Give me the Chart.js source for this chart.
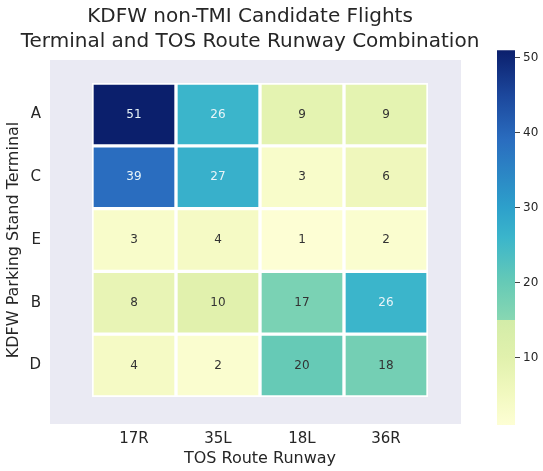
<!DOCTYPE html>
<html>
<head>
  <title>KDFW non-TMI Candidate Flights</title>
  <script src="https://cdn.jsdelivr.net/npm/chart.js"></script>
  <style>
    body { margin: 0; background: #fff; font-family: "DejaVu Sans", sans-serif; }
    .wrap { position: relative; width: 543px; height: 471px; }
    #heatmap { position: absolute; left: 0; top: 0; }
    #colorbar { position: absolute; left: 490px; top: 40px; }
  </style>
</head>
<body>
  <div class="wrap">
    <canvas id="heatmap" width="500" height="471"></canvas>
    <canvas id="colorbar" width="53" height="400"></canvas>
  </div>

  <script>
    // datos
    const runways = ['17R', '35L', '18L', '36R'];
    const terminals = ['A', 'C', 'E', 'B', 'D'];
    const rowA = [51, 26, 9, 9];
    const rowC = [39, 27, 3, 6];
    const rowE = [3, 4, 1, 2];
    const rowB = [8, 10, 17, 26];
    const rowD = [4, 2, 20, 18];
    const counts = [rowA, rowC, rowE, rowB, rowD];
    const colorbarTicks = [10, 20, 30, 40, 50];
    const colorMin = 1;
    const colorMax = 51;

    // paleta aproximada (tiene un salto cerca de 15)
    const lowStops = [[1, '#fdfed4'], [5, '#f2f9c0'], [10, '#e1f1ad'], [15, '#d3eca8']];
    const highStops = [[15, '#88d7b2'], [20, '#66cab6'], [26, '#3bb5cb'], [30, '#2da0cb'],
                       [39, '#2a6dbf'], [45, '#1c479c'], [51, '#0b1f6c']];

    function hexToRgb(h) {
      const n = parseInt(h.slice(1), 16);
      return [(n >> 16) & 255, (n >> 8) & 255, n & 255];
    }

    function interp(stops, v) {
      if (v <= stops[0][0]) return stops[0][1];
      for (let i = 1; i < stops.length; i++) {
        if (v <= stops[i][0]) {
          const [v0, c0] = stops[i - 1];
          const [v1, c1] = stops[i];
          const t = (v - v0) / (v1 - v0);
          const a = hexToRgb(c0), b = hexToRgb(c1);
          const c = a.map((x, k) => Math.round(x + (b[k] - x) * t));
          return `rgb(${c[0]}, ${c[1]}, ${c[2]})`;
        }
      }
      return stops[stops.length - 1][1];
    }

    function colorFor(v) {
      return v < 15 ? interp(lowStops, v) : interp(highStops, v);
    }

    const datasets = counts.map((row, i) => ({
      label: terminals[i],
      data: row.map(() => [i, i + 1]),
      counts: row,
      backgroundColor: row.map(colorFor),
      borderColor: '#ffffff',
      borderWidth: 2,
      borderSkipped: false,
      barPercentage: 1,
      categoryPercentage: 1,
      grouped: false
    }));

    // fondo lavanda alrededor de las celdas
    const fondoPlugin = {
      id: 'fondo',
      beforeDraw(chart) {
        const a = chart.chartArea;
        const ctx = chart.ctx;
        ctx.save();
        ctx.fillStyle = '#eaeaf3';
        ctx.fillRect(a.left - 42, a.top - 23, a.width + 75, a.height + 50);
        ctx.restore();
      }
    };

    // numeros dentro de cada celda
    const valoresPlugin = {
      id: 'valores',
      afterDatasetsDraw(chart) {
        const ctx = chart.ctx;
        ctx.save();
        ctx.font = '12px "DejaVu Sans"';
        ctx.textAlign = 'center';
        ctx.textBaseline = 'middle';
        chart.data.datasets.forEach((ds, i) => {
          chart.getDatasetMeta(i).data.forEach((bar, j) => {
            const v = ds.counts[j];
            ctx.fillStyle = v > 24 ? '#e8f4f8' : '#333333';
            ctx.fillText(String(v), bar.x, (bar.y + bar.base) / 2);
          });
        });
        ctx.restore();
      }
    };

    new Chart(document.getElementById('heatmap'), {
      type: 'bar',
      data: { labels: runways, datasets: datasets },
      options: {
        responsive: false,
        animation: false,
        plugins: {
          legend: { display: false },
          tooltip: { enabled: false },
          title: {
            display: true,
            text: ['KDFW non-TMI Candidate Flights', 'Terminal and TOS Route Runway Combination'],
            color: '#262626',
            font: { family: 'DejaVu Sans', size: 20, weight: 'normal', lineHeight: 1.25 },
            padding: { top: 4, bottom: 29 }
          }
        },
        scales: {
          x: {
            grid: { display: false },
            border: { display: false },
            ticks: { color: '#262626', font: { family: 'DejaVu Sans', size: 15 }, padding: 25 },
            title: {
              display: true,
              text: 'TOS Route Runway',
              color: '#262626',
              font: { family: 'DejaVu Sans', size: 16 },
              padding: { top: 0, bottom: 3 }
            },
            afterFit: (s) => { s.height = 74; }
          },
          y: {
            type: 'linear',
            min: 0,
            max: terminals.length,
            reverse: true,
            grid: { display: false },
            border: { display: false },
            afterBuildTicks: (s) => { s.ticks = terminals.map((t, i) => ({ value: i + 0.5 })); },
            ticks: {
              color: '#262626',
              font: { family: 'DejaVu Sans', size: 15 },
              padding: 43,
              callback: (v) => terminals[Math.floor(v)]
            },
            title: {
              display: true,
              text: 'KDFW Parking Stand Terminal',
              color: '#262626',
              font: { family: 'DejaVu Sans', size: 16 },
              padding: { top: 4, bottom: 0 }
            },
            afterFit: (s) => { s.width = 92; }
          },
          // eje vacio a la derecha para dejar sitio (la barra de color va aparte)
          derecha: {
            type: 'linear',
            position: 'right',
            display: true,
            grid: { display: false },
            border: { display: false },
            ticks: { display: false },
            afterFit: (s) => { s.width = 72; }
          }
        }
      },
      plugins: [fondoPlugin, valoresPlugin]
    });

    // barra de color
    function gradiente(context) {
      const chart = context.chart;
      const area = chart.chartArea;
      if (!area) return '#ccc';
      const y = chart.scales.y;
      const y0 = y.getPixelForValue(colorMin);
      const y1 = y.getPixelForValue(colorMax);
      const g = chart.ctx.createLinearGradient(0, y0, 0, y1);
      const off = (v) => (v - colorMin) / (colorMax - colorMin);
      lowStops.forEach(([v, c]) => g.addColorStop(off(v), c));
      highStops.forEach(([v, c]) => g.addColorStop(Math.min(1, off(v) + 0.0001), c));
      return g;
    }

    new Chart(document.getElementById('colorbar'), {
      type: 'bar',
      data: {
        labels: [''],
        datasets: [{
          data: [[colorMin, colorMax]],
          backgroundColor: gradiente,
          borderWidth: 0,
          barPercentage: 1,
          categoryPercentage: 1
        }]
      },
      options: {
        responsive: false,
        animation: false,
        layout: { padding: { top: 10, bottom: 15, left: 7 } },
        plugins: { legend: { display: false }, tooltip: { enabled: false } },
        scales: {
          x: { display: false },
          y: {
            position: 'right',
            min: colorMin,
            max: colorMax,
            border: { display: false },
            grid: { drawOnChartArea: false, drawTicks: true, tickLength: 5, color: '#444' },
            afterBuildTicks: (s) => { s.ticks = colorbarTicks.map(v => ({ value: v })); },
            ticks: { color: '#262626', font: { family: 'DejaVu Sans', size: 12 }, padding: 3 },
            afterFit: (s) => { s.width = 28; }
          }
        }
      }
    });
  </script>
</body>
</html>
